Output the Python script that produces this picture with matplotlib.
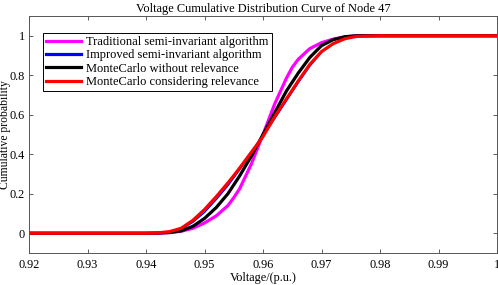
import matplotlib
matplotlib.use("Agg")
import matplotlib.pyplot as plt
from matplotlib.lines import Line2D

plt.rcParams['font.family'] = ['Liberation Serif', 'DejaVu Serif']

voltage = [0.92, 0.940, 0.942, 0.944, 0.946, 0.948, 0.950, 0.952, 0.954, 0.955, 0.956, 0.958,
           0.960, 0.962, 0.964, 0.965, 0.966, 0.968, 0.970, 0.972, 0.974, 0.976, 0.980, 1.00]

traditional = [0, 0, 0.0, 0.003, 0.01, 0.025, 0.052, 0.088, 0.14, 0.18, 0.225, 0.35,
               0.50, 0.655, 0.785, 0.84, 0.88, 0.935, 0.965, 0.983, 0.994, 1.0, 1.0, 1.0]
improved = [0, 0, 0.001, 0.006, 0.02, 0.055, 0.105, 0.17, 0.24, 0.28, 0.32, 0.405,
            0.49, 0.58, 0.67, 0.715, 0.76, 0.845, 0.915, 0.96, 0.985, 0.997, 1.0, 1.0]
mc_without = [0, 0, 0.001, 0.004, 0.012, 0.035, 0.075, 0.13, 0.20, 0.245, 0.29, 0.39,
              0.50, 0.61, 0.72, 0.765, 0.81, 0.89, 0.95, 0.98, 0.995, 1.0, 1.0, 1.0]
mc_with = [0, 0, 0.002, 0.008, 0.025, 0.065, 0.12, 0.185, 0.255, 0.292, 0.33, 0.41,
           0.49, 0.59, 0.68, 0.725, 0.77, 0.855, 0.92, 0.96, 0.985, 0.997, 1.0, 1.0]

labels = ["Traditional semi-invariant algorithm",
          "Improved semi-invariant algorithm",
          "MonteCarlo without relevance",
          "MonteCarlo considering relevance"]
colors = ["#FF00FF", "#0000FF", "#000000", "#FF0000"]
series = [traditional, improved, mc_without, mc_with]
widths = [2.3, 1.0, 2.3, 2.3]

xticks = [0.92, 0.93, 0.94, 0.95, 0.96, 0.97, 0.98, 0.99, 1.0]
xticklabels = ["0.92", "0.93", "0.94", "0.95", "0.96", "0.97", "0.98", "0.99", "1"]
yticks = [0, 0.2, 0.4, 0.6, 0.8, 1.0]
yticklabels = ["0", "0.2", "0.4", "0.6", "0.8", "1"]

fig = plt.figure(figsize=(4.98, 2.85), dpi=100)
ax = fig.add_axes([29/498, 32/285, 468/498, 237/285])

for s, c, w, lab in zip(series, colors, widths, labels):
    ax.plot(voltage, s, color=c, lw=w, label=lab, solid_joinstyle='round')

ax.set_xlim(0.92, 1.0)
ax.set_ylim(-0.1, 1.1)
ax.set_xticks(xticks)
ax.set_xticklabels(xticklabels)
ax.set_yticks(yticks)
ax.set_yticklabels(yticklabels)
ax.tick_params(direction='in', top=True, right=True, labelsize=8.8,
               length=3, width=0.6, color='#444444', pad=4)
ax.tick_params(axis='y', pad=3)
for sp in ax.spines.values():
    sp.set_color('#555555')
    sp.set_linewidth(0.7)

ax.set_title("Voltage Cumulative Distribution Curve of Node 47", fontsize=8.9, pad=3)
ax.set_xlabel("Voltage/(p.u.)", fontsize=8.8, labelpad=1)
ax.set_ylabel("Cumulative probability", fontsize=8.4)
ax.yaxis.set_label_coords(-0.039, 0.5)

leg_handles = [Line2D([], [], color=c, lw=2.3) for c in colors]
leg = ax.legend(leg_handles, labels, loc='upper left', bbox_to_anchor=(0.03, 0.928),
                borderaxespad=0, fontsize=9, handlelength=2.8, handletextpad=0.4,
                labelspacing=0.1, borderpad=0.25, fancybox=False, framealpha=1,
                edgecolor='black')
leg.get_frame().set_linewidth(0.7)

fig.savefig("out.png", dpi=100)
